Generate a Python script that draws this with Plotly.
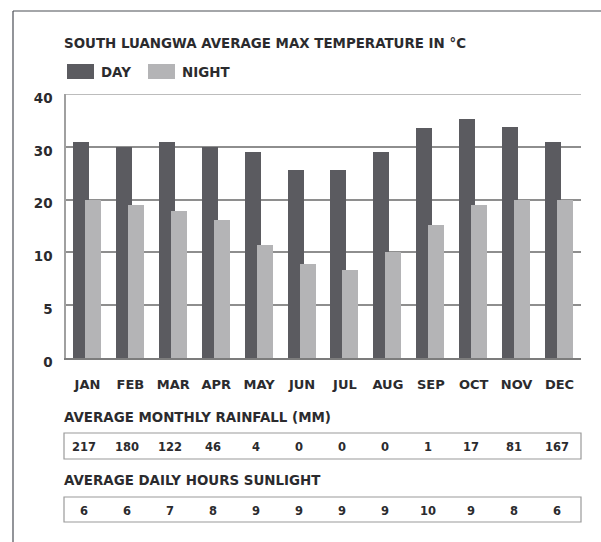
import numpy as np
import plotly.graph_objects as go

months = ["JAN", "FEB", "MAR", "APR", "MAY", "JUN", "JUL", "AUG", "SEP", "OCT", "NOV", "DEC"]
day_temp = [31, 30, 31, 30, 29, 25.6, 25.6, 29, 33.6, 35.3, 33.8, 31]
night_temp = [20, 19, 17.8, 16.2, 11.4, 8.9, 8.3, 10, 15.2, 19, 20, 20]
rainfall_mm = ["217", "180", "122", "46", "4", "0", "0", "0", "1", "17", "81", "167"]
sunlight_hours = ["6", "6", "7", "8", "9", "9", "9", "9", "10", "9", "8", "6"]
y_tick_labels = [0, 5, 10, 20, 30, 40]

W, H = 601, 542
L, R, T, B = 66, 581, 94, 358  # plot area in pixels


def px2x(px):
    return (px - L) / (R - L)


def px2y(py):
    return (B - py) / (B - T)


tick_pos = list(range(len(y_tick_labels)))


def to_axis(vals):
    return np.interp(vals, y_tick_labels, tick_pos)


DAY_C = "#5b5b60"
NIGHT_C = "#b4b4b6"
TXT = "#2b2b2e"
FONT = "DejaVu Sans"

fig = go.Figure()
fig.add_trace(go.Bar(x=months, y=to_axis(day_temp), marker=dict(color=DAY_C, line=dict(width=0)),
                     offset=-0.338, width=0.373, name="DAY", showlegend=False))
fig.add_trace(go.Bar(x=months, y=to_axis(night_temp), marker=dict(color=NIGHT_C, line=dict(width=0)),
                     offset=-0.058, width=0.373, name="NIGHT", showlegend=False))

shapes = []
annotations = []

# outer frame (top and left)
shapes.append(dict(type="line", xref="paper", yref="paper", x0=px2x(13), x1=px2x(601), y0=px2y(11), y1=px2y(11),
                   line=dict(color="#4a4e55", width=1.2)))
shapes.append(dict(type="line", xref="paper", yref="paper", x0=px2x(13), x1=px2x(13), y0=px2y(11), y1=px2y(542),
                   line=dict(color="#4a4e55", width=1.2)))
# top gridline (lighter)
shapes.append(dict(type="line", xref="paper", yref="y", x0=0, x1=1, y0=tick_pos[-1], y1=tick_pos[-1],
                   line=dict(color="#bcbcbc", width=2)))

# title
title_font = dict(family=FONT, size=13.4, color=TXT, weight="bold")
annotations.append(dict(text="SOUTH LUANGWA AVERAGE MAX TEMPERATURE IN °C", xref="paper", yref="paper",
                        x=px2x(62), y=px2y(44), xanchor="left", yanchor="middle", showarrow=False, font=title_font))

# legend
for label, color, sx, tx in [("DAY", DAY_C, 67, 99), ("NIGHT", NIGHT_C, 148, 180)]:
    shapes.append(dict(type="rect", xref="paper", yref="paper", x0=px2x(sx), x1=px2x(sx + 27),
                       y0=px2y(64), y1=px2y(79), fillcolor=color, line=dict(width=0)))
    annotations.append(dict(text=label, xref="paper", yref="paper", x=px2x(tx), y=px2y(72),
                            xanchor="left", yanchor="middle", showarrow=False, font=title_font))

# table rows
rows = [("AVERAGE MONTHLY RAINFALL (MM)", rainfall_mm, 417, 433, 459),
        ("AVERAGE DAILY HOURS SUNLIGHT", sunlight_hours, 480, 497, 522)]
for heading, vals, hy, by0, by1 in rows:
    annotations.append(dict(text=heading, xref="paper", yref="paper", x=px2x(62), y=px2y(hy),
                            xanchor="left", yanchor="middle", showarrow=False, font=title_font))
    shapes.append(dict(type="rect", xref="paper", yref="paper", x0=px2x(64), x1=px2x(581),
                       y0=px2y(by0), y1=px2y(by1), line=dict(color="#9a9a9a", width=1.2)))
    for m, v in zip(months, vals):
        annotations.append(dict(text=v, xref="x", yref="paper", x=m, y=px2y((by0 + by1) / 2 + 1),
                                xanchor="center", yanchor="middle", showarrow=False, xshift=-3,
                                font=dict(family=FONT, size=11.5, color=TXT, weight="bold")))

fig.update_layout(
    width=W, height=H,
    margin=dict(l=L, r=W - R, t=T, b=H - B, pad=0),
    paper_bgcolor="white", plot_bgcolor="white",
    barmode="overlay",
    shapes=shapes, annotations=annotations,
    xaxis=dict(type="category", categoryorder="array", categoryarray=months, range=[-0.5, 11.5],
               showline=True, linecolor="#7c7c7c", linewidth=2, ticks="", showgrid=False,
               tickfont=dict(family=FONT, size=13, color=TXT, weight="bold"), ticklabelstandoff=13),
    yaxis=dict(range=[0, tick_pos[-1]], tickvals=tick_pos, ticktext=[str(v) for v in y_tick_labels],
               showgrid=True, gridcolor="#8e8e8e", gridwidth=1.5, zeroline=False,
               showline=True, linecolor="#a0a0a0", linewidth=1.5, ticks="",
               tickfont=dict(family=FONT, size=13.5, color=TXT, weight="bold"),
               ticklabelstandoff=9, ticklabelshift=4),
    bargap=0,
)

fig.write_html("out.html", config={"displayModeBar": False},
               post_script="document.body.style.margin='0';document.body.style.overflow='hidden';")
